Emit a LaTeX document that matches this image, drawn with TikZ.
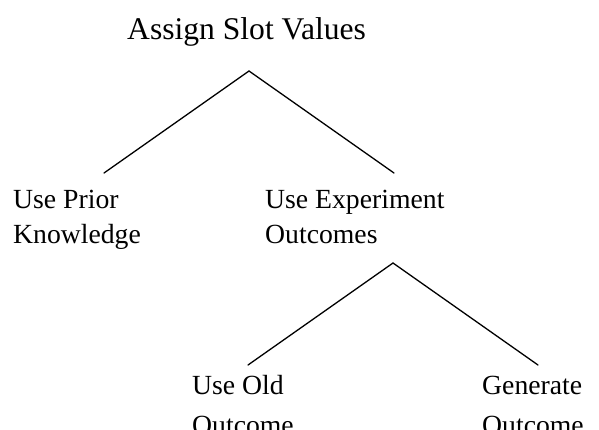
\documentclass[tikz,border=0pt]{standalone}
\usepackage{fontspec}
\setmainfont{Liberation Serif}
\begin{document}
\begin{tikzpicture}[x=1pt,y=1pt,
  lbl/.style={anchor=base west, align=left, inner sep=0pt, font=\fontsize{27.7}{35}\selectfont},
  lowlbl/.style={lbl, font=\fontsize{27.7}{40}\selectfont},
  branch/.style={line width=1.3pt, line cap=round}]
\useasboundingbox (0,0) rectangle (599,-429);
\node[lbl, font=\fontsize{31.6}{38}\selectfont] (root) at (127,-39.5) {Assign Slot Values};
\node[lbl] (prior) at (13,-243) {Use Prior\\Knowledge};
\node[lbl] (exp) at (265,-243) {Use Experiment\\Outcomes};
\node[lowlbl] (old) at (192,-434) {Use Old\\Outcome};
\node[lowlbl] (gen) at (482,-434) {Generate\\Outcome};
\coordinate (a1) at (249,-71);
\coordinate (l1) at (104,-173);
\coordinate (r1) at (394,-173);
\coordinate (a2) at (393,-263);
\coordinate (l2) at (248,-365);
\coordinate (r2) at (538,-365);
\draw[branch] (l1) -- (a1) -- (r1);
\draw[branch] (l2) -- (a2) -- (r2);
\end{tikzpicture}
\end{document}
